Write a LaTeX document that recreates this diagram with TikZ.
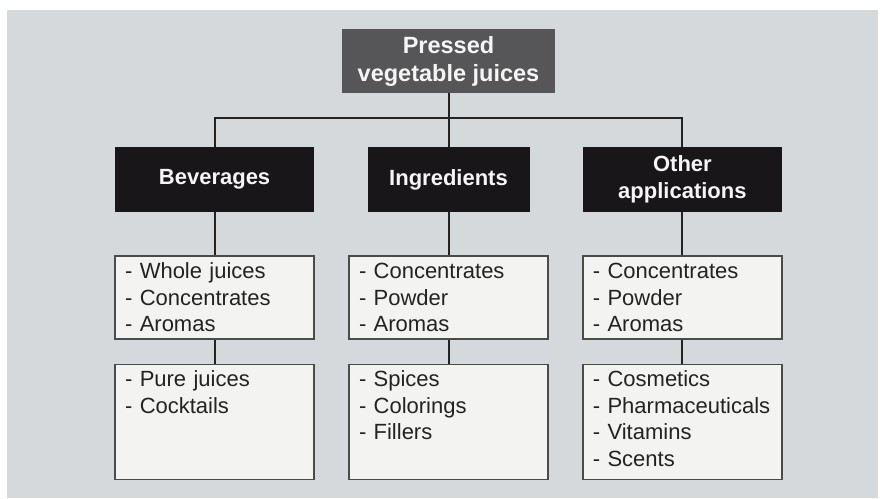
\documentclass[tikz,border=0pt]{standalone}
\usepackage{fontspec}
\setmainfont{Liberation Sans}
\usepackage{tikz}
\usetikzlibrary{positioning}
\usepackage{xcolor}
\definecolor{paper}{RGB}{214,217,219}
\definecolor{topfill}{RGB}{86,86,88}
\definecolor{catfill}{RGB}{24,22,24}
\definecolor{boxfill}{RGB}{243,243,241}
\definecolor{boxline}{RGB}{75,75,75}
\definecolor{ink}{RGB}{35,35,35}

\begin{document}
\begin{tikzpicture}[x=1pt, y=-1pt,
  head/.style={fill=topfill, text=white!92!gray, inner sep=0pt,
               font=\fontsize{23.5}{28}\selectfont\bfseries, align=center,
               minimum width=213pt, minimum height=63.5pt},
  cat/.style={fill=catfill, text=white!92!gray, inner sep=0pt,
              font=\fontsize{22}{26.7}\selectfont\bfseries, align=center,
              minimum height=65pt},
  list/.style={draw=boxline, line width=1.3pt, fill=boxfill, text=ink,
               font=\fontsize{22}{26.5}\selectfont, text width=179pt,
               align=left, inner xsep=10pt, inner ysep=0pt, text height=22.5pt},
  link/.style={draw=ink, line width=2pt},
  ]
  \useasboundingbox (0,0) rectangle (883,498);
  \fill[paper] (7,10) rectangle (878,498);

  \node[head] (juices) at (448.5,61) {Pressed\\vegetable juices};
  \coordinate[below=25pt of juices] (bar);
  \node[cat, below=54pt of juices, minimum width=162pt] (ingr) {Ingredients};
  \node[cat, left=53pt of ingr, minimum width=199pt] (bev) {Beverages};
  \node[cat, right=53pt of ingr, minimum width=199pt] (other) {Other\\applications};

  \node[list, below=43pt of bev, text depth=60.5pt] (bevforms)
    {- Whole juices\\- Concentrates\\- Aromas};
  \node[list, below=24pt of bevforms, text depth=92.5pt] (bevuses)
    {- Pure juices\\- Cocktails};
  \node[list, below=43pt of ingr, text depth=60.5pt] (ingrforms)
    {- Concentrates\\- Powder\\- Aromas};
  \node[list, below=24pt of ingrforms, text depth=92.5pt] (ingruses)
    {- Spices\\- Colorings\\- Fillers};
  \node[list, below=43pt of other, text depth=60.5pt] (otherforms)
    {- Concentrates\\- Powder\\- Aromas};
  \node[list, below=24pt of otherforms, text depth=92.5pt] (otheruses)
    {- Cosmetics\\- Pharmaceuticals\\- Vitamins\\- Scents};

  \draw[link] (juices) -- (ingr);
  \draw[link] (bev) |- (bar) -| (other);
  \draw[link] (bev) -- (bevforms);
  \draw[link] (bevforms) -- (bevuses);
  \draw[link] (ingr) -- (ingrforms);
  \draw[link] (ingrforms) -- (ingruses);
  \draw[link] (other) -- (otherforms);
  \draw[link] (otherforms) -- (otheruses);
\end{tikzpicture}
\end{document}
